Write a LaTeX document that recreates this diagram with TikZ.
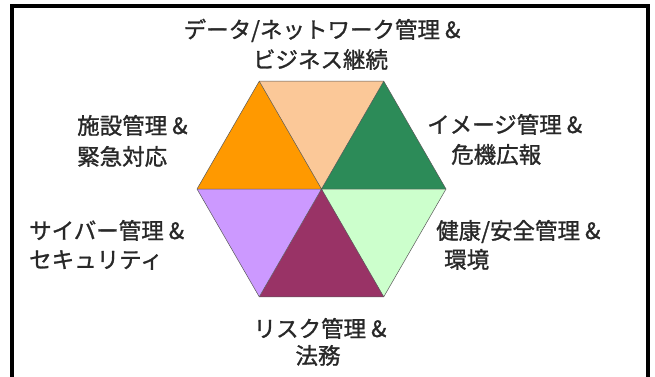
\documentclass[tikz,border=0pt]{standalone}
\usepackage{fontspec}
\setmainfont[FakeBold=1.2]{Noto Sans CJK JP}
\definecolor{peach}{RGB}{251,200,152}
\definecolor{orangeA}{RGB}{255,153,0}
\definecolor{greenA}{RGB}{44,139,88}
\definecolor{lightgreen}{RGB}{204,255,204}
\definecolor{maroon}{RGB}{153,51,102}
\definecolor{lavender}{RGB}{204,153,255}
\definecolor{txt}{RGB}{40,40,40}
\begin{document}
\begin{tikzpicture}[x=1pt,y=-1pt,
  lbl/.style={inner sep=0pt,text=txt,font=\fontsize{22.5}{30}\selectfont},
  tri/.style={draw=black!65,line width=0.5pt,line join=round}]
\useasboundingbox (0,0) rectangle (655,376);
% frame
\draw[line width=3.6pt,line join=miter] (11.7,385) -- (11.7,6.2) -- (648,6.2) -- (648,385);
% hexagon vertices
\coordinate (O) at (321.5,189);
\coordinate (R) at (446,189);
\coordinate (TR) at (383.75,81.2);
\coordinate (TL) at (259.25,81.2);
\coordinate (L) at (197,189);
\coordinate (BL) at (259.25,296.8);
\coordinate (BR) at (383.75,296.8);
\fill[peach] (O) -- (TL) -- (TR) -- cycle;
\fill[orangeA] (O) -- (L) -- (TL) -- cycle;
\fill[greenA] (O) -- (TR) -- (R) -- cycle;
\fill[lightgreen] (O) -- (R) -- (BR) -- cycle;
\fill[maroon] (O) -- (BR) -- (BL) -- cycle;
\fill[lavender] (O) -- (BL) -- (L) -- cycle;
\draw[tri] (TL) -- (TR) -- (R) -- (BR) -- (BL) -- (L) -- cycle;
\draw[tri] (TL) -- (BR) (TR) -- (BL) (L) -- (R);
% labels
\node[lbl,anchor=base] (t1) at (322,38) {データ/ネットワーク管理 \&};
\node[lbl,anchor=base] (t2) at (320.5,68) {ビジネス継続};
\node[lbl,anchor=base west] (ul1) at (77,134) {施設管理 \&};
\node[lbl,anchor=base west] (ul2) at (77,165) {緊急対応};
\node[lbl,anchor=base west] (ur1) at (427,133) {イメージ管理 \&};
\node[lbl,anchor=base west] (ur2) at (451,163) {危機広報};
\node[lbl,anchor=base west] (ll1) at (29,239) {サイバー管理 \&};
\node[lbl,anchor=base west] (ll2) at (29,268) {セキュリティ};
\node[lbl,anchor=base west] (lr1) at (436,239) {健康/安全管理 \&};
\node[lbl,anchor=base west] (lr2) at (444,268) {環境};
\node[lbl,anchor=base] (b1) at (320,337) {リスク管理 \&};
\node[lbl,anchor=base] (b2) at (318,364) {法務};
\end{tikzpicture}
\end{document}
